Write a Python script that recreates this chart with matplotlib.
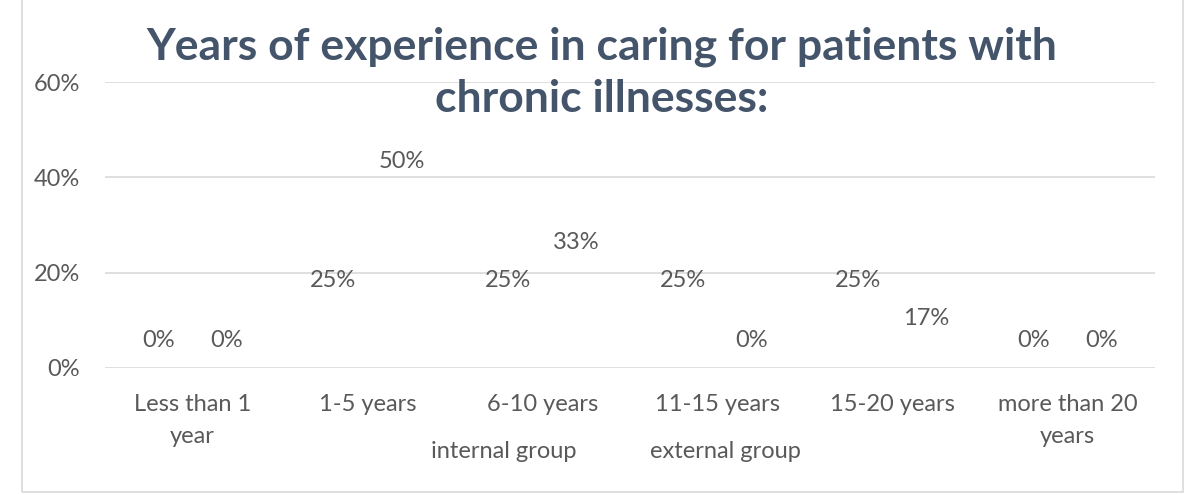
import matplotlib
matplotlib.use("Agg")
import matplotlib.pyplot as plt
import numpy as np
from matplotlib.patches import Rectangle

categories = ["Less than 1\nyear", "1-5 years", "6-10 years", "11-15 years", "15-20 years", "more than 20\nyears"]
internal_group = [0, 25, 25, 25, 25, 0]
external_group = [0, 50, 33, 0, 17, 0]
series_names = ["internal group", "external group"]
yticks = [0, 20, 40, 60]

plt.rcParams['font.family'] = ['Lato', 'DejaVu Sans']
W, H = 1185, 495
fig = plt.figure(figsize=(W/100, H/100), dpi=100)
ax = fig.add_axes([105/W, 1-368/H, 1050/W, (368-82)/H])

x = np.arange(len(categories))
off = 0.195
bw = 0.19
txt = '#595959'
fs = 17
b1 = ax.bar(x - off, internal_group, bw, color='none', edgecolor='none', label=series_names[0])
b2 = ax.bar(x + off, external_group, bw, color='none', edgecolor='none', label=series_names[1])

for bars, vals in ((b1, internal_group), (b2, external_group)):
    for r, v in zip(bars, vals):
        cx = r.get_x() + r.get_width()/2
        dy = -23 if v > 0 else 20
        ax.annotate(f"{v}%", (cx, v), xytext=(0, dy), textcoords='offset points',
                    ha='center', va='center', fontsize=fs, color=txt)

ax.set_xlim(-0.5, len(categories)-0.5)
ax.set_ylim(0, 60)
ax.set_yticks(yticks)
ax.set_yticklabels([f"{t}%" for t in yticks], fontsize=fs, color=txt)
ax.set_xticks(x)
ax.set_xticklabels(categories, fontsize=fs, color=txt, linespacing=1.6)
ax.tick_params(axis='both', length=0)
ax.tick_params(axis='y', pad=18)
ax.tick_params(axis='x', pad=19)
ax.grid(axis='y', color='#d9d9d9', linewidth=1.2)
ax.set_axisbelow(True)
for s in ax.spines.values():
    s.set_visible(False)

fig.text(602/W, 1-73/H, "Years of experience in caring for patients with\nchronic illnesses:",
         ha='center', va='center', fontsize=32, fontweight='bold', color='#44546a', linespacing=1.35)

leg = fig.legend(handles=[b1, b2], labels=series_names, loc='center', bbox_to_anchor=(598/W, 1-451/H),
                 ncol=2, frameon=False, fontsize=fs, labelcolor=txt, handlelength=0.7, columnspacing=1.6)

fig.patches.append(Rectangle((22/W, 1-492/H), (1183-22)/W, 1.2, transform=fig.transFigure,
                             fill=False, edgecolor='#d9d9d9', linewidth=1.2))
fig.savefig("out.png", dpi=100)
